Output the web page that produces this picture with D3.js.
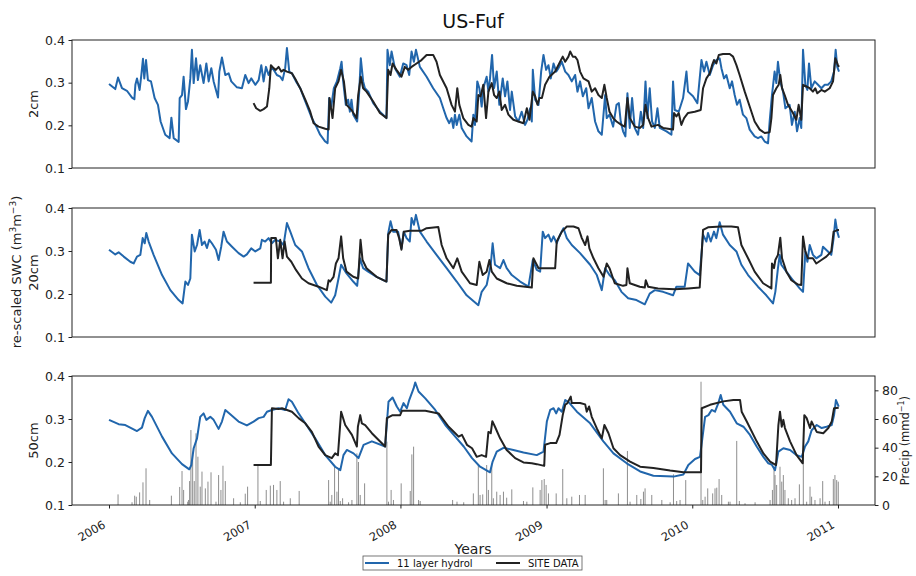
<!DOCTYPE html>
<html><head><meta charset="utf-8">
<script src="https://cdn.jsdelivr.net/npm/d3@7"></script>
<style>body{margin:0;background:#fff}svg{font-family:"DejaVu Sans",sans-serif}</style>
</head><body><svg id="c" width="916" height="576"></svg>
<script>
const title = "US-Fuf";
const panelLabels = ["2cm","20cm","50cm"];
const yTicks = [0.1,0.2,0.3,0.4];
const precipTicks = [0,20,40,60,80];
const yearTicks = [2006,2007,2008,2009,2010,2011];
const seriesNames = ["11 layer hydrol","SITE DATA"];

const blue2cm = [[2006.000,.297],[2006.043,.285],[2006.062,.312],[2006.089,.287],[2006.123,.281],[2006.158,.265],[2006.174,.261],[2006.181,.295],[2006.192,.310],[2006.210,.283],[2006.222,.318],[2006.233,.356],[2006.242,.310],[2006.254,.353],[2006.267,.306],[2006.288,.303],[2006.313,.264],[2006.336,.248],[2006.354,.209],[2006.386,.178],[2006.416,.170],[2006.428,.218],[2006.444,.170],[2006.478,.161],[2006.485,.264],[2006.501,.271],[2006.512,.314],[2006.528,.238],[2006.542,.256],[2006.558,.310],[2006.569,.377],[2006.581,.299],[2006.597,.357],[2006.610,.306],[2006.626,.341],[2006.649,.299],[2006.668,.345],[2006.684,.303],[2006.702,.334],[2006.718,.303],[2006.748,.265],[2006.757,.326],[2006.775,.359],[2006.798,.318],[2006.821,.322],[2006.839,.303],[2006.878,.289],[2006.912,.287],[2006.935,.318],[2006.958,.299],[2006.976,.310],[2007.004,.295],[2007.027,.306],[2007.045,.341],[2007.061,.303],[2007.077,.337],[2007.095,.318],[2007.118,.337],[2007.152,.318],[2007.175,.314],[2007.191,.306],[2007.209,.334],[2007.221,.381],[2007.237,.326],[2007.255,.322],[2007.283,.303],[2007.312,.287],[2007.347,.256],[2007.392,.217],[2007.427,.194],[2007.449,.178],[2007.484,.162],[2007.500,.158],[2007.511,.264],[2007.525,.244],[2007.543,.287],[2007.564,.303],[2007.587,.334],[2007.596,.349],[2007.607,.303],[2007.625,.248],[2007.641,.260],[2007.653,.232],[2007.664,.260],[2007.676,.225],[2007.703,.209],[2007.717,.279],[2007.728,.357],[2007.744,.303],[2007.756,.287],[2007.779,.279],[2007.813,.252],[2007.859,.232],[2007.904,.217],[2007.911,.377],[2007.927,.341],[2007.939,.373],[2007.962,.334],[2007.996,.314],[2008.019,.345],[2008.042,.341],[2008.060,.318],[2008.076,.373],[2008.092,.349],[2008.106,.377],[2008.133,.337],[2008.179,.314],[2008.224,.287],[2008.270,.264],[2008.293,.240],[2008.316,.217],[2008.334,.205],[2008.350,.217],[2008.362,.194],[2008.373,.225],[2008.385,.201],[2008.403,.225],[2008.419,.194],[2008.453,.174],[2008.487,.162],[2008.499,.225],[2008.510,.201],[2008.526,.303],[2008.540,.287],[2008.556,.244],[2008.567,.287],[2008.590,.314],[2008.602,.279],[2008.613,.310],[2008.627,.365],[2008.641,.287],[2008.659,.326],[2008.677,.248],[2008.700,.310],[2008.716,.268],[2008.732,.303],[2008.750,.236],[2008.762,.279],[2008.785,.221],[2008.807,.209],[2008.830,.232],[2008.853,.201],[2008.869,.213],[2008.888,.240],[2008.899,.209],[2008.906,.330],[2008.922,.260],[2008.945,.248],[2008.963,.326],[2008.979,.365],[2008.997,.330],[2009.013,.341],[2009.029,.310],[2009.048,.345],[2009.066,.326],[2009.082,.334],[2009.105,.349],[2009.128,.326],[2009.150,.318],[2009.173,.303],[2009.196,.318],[2009.212,.279],[2009.230,.303],[2009.249,.268],[2009.272,.287],[2009.288,.240],[2009.310,.264],[2009.333,.209],[2009.356,.186],[2009.379,.178],[2009.402,.271],[2009.413,.217],[2009.432,.225],[2009.457,.197],[2009.480,.248],[2009.496,.252],[2009.509,.209],[2009.525,.186],[2009.541,.174],[2009.555,.275],[2009.571,.194],[2009.587,.264],[2009.605,.194],[2009.628,.178],[2009.647,.232],[2009.663,.194],[2009.679,.303],[2009.692,.217],[2009.708,.287],[2009.724,.209],[2009.743,.194],[2009.761,.240],[2009.777,.194],[2009.800,.190],[2009.823,.186],[2009.857,.178],[2009.868,.303],[2009.880,.236],[2009.907,.232],[2009.937,.264],[2009.960,.326],[2009.971,.279],[2010.005,.268],[2010.035,.252],[2010.051,.310],[2010.063,.353],[2010.081,.326],[2010.097,.349],[2010.120,.318],[2010.143,.341],[2010.165,.353],[2010.188,.357],[2010.200,.334],[2010.218,.310],[2010.234,.318],[2010.257,.287],[2010.273,.303],[2010.291,.271],[2010.307,.248],[2010.325,.260],[2010.348,.225],[2010.371,.217],[2010.394,.190],[2010.428,.174],[2010.451,.170],[2010.474,.174],[2010.497,.162],[2010.520,.158],[2010.531,.209],[2010.547,.271],[2010.565,.326],[2010.577,.299],[2010.588,.349],[2010.604,.303],[2010.623,.279],[2010.639,.240],[2010.668,.248],[2010.684,.201],[2010.703,.232],[2010.719,.186],[2010.737,.217],[2010.748,.194],[2010.760,.377],[2010.776,.295],[2010.790,.283],[2010.801,.345],[2010.817,.287],[2010.840,.303],[2010.863,.295],[2010.886,.287],[2010.909,.295],[2010.931,.295],[2010.954,.303],[2010.973,.326],[2010.984,.377],[2010.995,.337],[2011.007,.326]];

const site2cm = [[2006.992,.252],[2007.010,.240],[2007.038,.234],[2007.061,.238],[2007.084,.244],[2007.100,.287],[2007.111,.341],[2007.129,.334],[2007.145,.330],[2007.164,.337],[2007.182,.326],[2007.198,.330],[2007.221,.326],[2007.255,.322],[2007.283,.306],[2007.312,.287],[2007.347,.260],[2007.381,.232],[2007.404,.205],[2007.438,.197],[2007.484,.192],[2007.507,.190],[2007.513,.264],[2007.534,.217],[2007.552,.287],[2007.575,.303],[2007.593,.330],[2007.612,.303],[2007.630,.248],[2007.664,.236],[2007.699,.217],[2007.710,.271],[2007.728,.314],[2007.744,.287],[2007.767,.279],[2007.813,.256],[2007.859,.229],[2007.904,.217],[2007.916,.330],[2007.932,.318],[2007.946,.345],[2007.973,.330],[2008.007,.314],[2008.030,.337],[2008.053,.330],[2008.076,.337],[2008.110,.345],[2008.144,.353],[2008.179,.365],[2008.224,.365],[2008.247,.349],[2008.270,.318],[2008.316,.287],[2008.350,.248],[2008.373,.232],[2008.389,.287],[2008.403,.248],[2008.430,.217],[2008.465,.201],[2008.487,.197],[2008.499,.217],[2008.522,.209],[2008.533,.271],[2008.549,.268],[2008.567,.295],[2008.586,.217],[2008.602,.279],[2008.625,.299],[2008.641,.271],[2008.659,.264],[2008.677,.279],[2008.693,.236],[2008.716,.248],[2008.739,.225],[2008.773,.213],[2008.807,.209],[2008.842,.205],[2008.865,.240],[2008.883,.213],[2008.906,.279],[2008.922,.268],[2008.938,.248],[2008.951,.264],[2008.968,.264],[2008.990,.295],[2009.020,.314],[2009.059,.326],[2009.093,.349],[2009.111,.361],[2009.128,.349],[2009.150,.361],[2009.162,.373],[2009.180,.361],[2009.196,.361],[2009.212,.353],[2009.230,.326],[2009.253,.310],[2009.288,.303],[2009.310,.279],[2009.333,.287],[2009.356,.271],[2009.379,.264],[2009.397,.295],[2009.413,.264],[2009.432,.232],[2009.457,.217],[2009.480,.209],[2009.514,.201],[2009.537,.197],[2009.555,.264],[2009.571,.217],[2009.605,.197],[2009.640,.194],[2009.663,.201],[2009.679,.248],[2009.697,.217],[2009.720,.197],[2009.765,.201],[2009.800,.194],[2009.834,.192],[2009.868,.190],[2009.875,.229],[2009.891,.221],[2009.907,.229],[2009.925,.201],[2009.944,.217],[2009.971,.229],[2010.017,.232],[2010.058,.236],[2010.074,.287],[2010.097,.310],[2010.120,.322],[2010.136,.341],[2010.149,.353],[2010.165,.345],[2010.182,.365],[2010.211,.367],[2010.257,.367],[2010.280,.361],[2010.303,.341],[2010.325,.318],[2010.360,.279],[2010.394,.244],[2010.428,.209],[2010.463,.190],[2010.497,.182],[2010.531,.184],[2010.543,.217],[2010.554,.271],[2010.577,.287],[2010.593,.295],[2010.604,.318],[2010.616,.287],[2010.634,.271],[2010.657,.248],[2010.691,.229],[2010.714,.213],[2010.730,.248],[2010.748,.213],[2010.760,.295],[2010.783,.291],[2010.806,.287],[2010.828,.279],[2010.844,.287],[2010.858,.275],[2010.886,.283],[2010.909,.279],[2010.943,.287],[2010.966,.303],[2010.982,.357],[2011.000,.341],[2011.007,.337]];

const blue20cm = [[2006.000,.303],[2006.043,.292],[2006.066,.297],[2006.101,.287],[2006.146,.275],[2006.169,.271],[2006.192,.287],[2006.215,.291],[2006.231,.330],[2006.245,.318],[2006.256,.342],[2006.272,.322],[2006.306,.291],[2006.364,.244],[2006.421,.209],[2006.478,.186],[2006.505,.178],[2006.524,.229],[2006.542,.221],[2006.558,.236],[2006.569,.338],[2006.588,.299],[2006.604,.314],[2006.622,.349],[2006.638,.314],[2006.656,.322],[2006.672,.307],[2006.688,.326],[2006.706,.318],[2006.734,.303],[2006.752,.279],[2006.770,.310],[2006.786,.345],[2006.809,.322],[2006.844,.310],[2006.889,.295],[2006.924,.287],[2006.946,.292],[2006.976,.306],[2007.004,.299],[2007.038,.306],[2007.049,.326],[2007.072,.322],[2007.095,.330],[2007.118,.318],[2007.141,.326],[2007.175,.322],[2007.198,.314],[2007.221,.365],[2007.244,.345],[2007.278,.314],[2007.324,.299],[2007.369,.260],[2007.427,.221],[2007.484,.194],[2007.525,.180],[2007.552,.197],[2007.575,.236],[2007.593,.268],[2007.630,.248],[2007.676,.229],[2007.703,.219],[2007.722,.283],[2007.744,.260],[2007.779,.252],[2007.836,.240],[2007.904,.229],[2007.916,.341],[2007.932,.369],[2007.950,.345],[2007.984,.345],[2008.007,.306],[2008.023,.345],[2008.042,.330],[2008.064,.322],[2008.076,.377],[2008.092,.361],[2008.106,.384],[2008.133,.345],[2008.179,.322],[2008.247,.291],[2008.316,.260],[2008.385,.229],[2008.453,.197],[2008.533,.174],[2008.556,.205],[2008.590,.221],[2008.618,.268],[2008.631,.318],[2008.647,.268],[2008.682,.260],[2008.705,.279],[2008.727,.260],[2008.762,.244],[2008.819,.229],[2008.876,.217],[2008.906,.279],[2008.933,.256],[2008.956,.252],[2008.974,.345],[2008.990,.330],[2009.013,.338],[2009.032,.322],[2009.048,.334],[2009.070,.318],[2009.093,.338],[2009.116,.353],[2009.139,.330],[2009.173,.314],[2009.230,.295],[2009.299,.268],[2009.345,.244],[2009.379,.209],[2009.402,.260],[2009.432,.244],[2009.468,.232],[2009.514,.205],[2009.560,.190],[2009.617,.186],[2009.674,.176],[2009.708,.201],[2009.743,.209],[2009.800,.205],[2009.868,.197],[2009.891,.217],[2009.948,.217],[2009.971,.271],[2010.017,.252],[2010.051,.244],[2010.074,.338],[2010.097,.322],[2010.108,.342],[2010.127,.322],[2010.149,.345],[2010.165,.330],[2010.188,.367],[2010.211,.338],[2010.257,.314],[2010.303,.299],[2010.337,.268],[2010.383,.244],[2010.451,.217],[2010.508,.197],[2010.554,.178],[2010.570,.205],[2010.588,.260],[2010.600,.291],[2010.611,.268],[2010.646,.252],[2010.691,.232],[2010.737,.213],[2010.760,.205],[2010.776,.299],[2010.790,.275],[2010.806,.314],[2010.828,.291],[2010.851,.283],[2010.886,.291],[2010.897,.310],[2010.931,.299],[2010.954,.291],[2010.970,.330],[2010.982,.373],[2010.995,.345],[2011.007,.331]];

const site20cm = [[2006.992,.226],[2007.111,.226],[2007.113,.330],[2007.145,.330],[2007.159,.283],[2007.175,.326],[2007.191,.283],[2007.205,.322],[2007.221,.287],[2007.251,.275],[2007.283,.256],[2007.324,.236],[2007.369,.225],[2007.438,.217],[2007.495,.209],[2007.507,.232],[2007.518,.229],[2007.541,.240],[2007.557,.271],[2007.575,.283],[2007.593,.334],[2007.607,.283],[2007.630,.252],[2007.676,.240],[2007.710,.236],[2007.726,.326],[2007.740,.279],[2007.767,.260],[2007.836,.240],[2007.904,.229],[2007.916,.338],[2007.939,.349],[2007.973,.349],[2007.991,.330],[2008.007,.303],[2008.023,.345],[2008.064,.347],[2008.144,.347],[2008.179,.353],[2008.259,.356],[2008.282,.314],[2008.316,.283],[2008.362,.260],[2008.389,.283],[2008.419,.252],[2008.476,.225],[2008.522,.221],[2008.540,.275],[2008.563,.244],[2008.590,.252],[2008.609,.279],[2008.625,.252],[2008.659,.236],[2008.727,.225],[2008.796,.219],[2008.899,.215],[2008.910,.283],[2008.945,.260],[2009.059,.260],[2009.070,.322],[2009.105,.345],[2009.139,.357],[2009.185,.357],[2009.219,.353],[2009.242,.330],[2009.265,.314],[2009.281,.334],[2009.294,.306],[2009.322,.283],[2009.356,.260],[2009.391,.240],[2009.413,.271],[2009.432,.260],[2009.468,.225],[2009.525,.219],[2009.548,.221],[2009.555,.260],[2009.571,.225],[2009.640,.217],[2009.674,.215],[2009.681,.232],[2009.697,.217],[2009.765,.213],[2009.880,.211],[2009.971,.213],[2010.051,.215],[2010.074,.349],[2010.108,.355],[2010.200,.357],[2010.268,.357],[2010.314,.355],[2010.337,.314],[2010.383,.283],[2010.428,.252],[2010.486,.225],[2010.543,.213],[2010.547,.271],[2010.561,.260],[2010.570,.279],[2010.588,.291],[2010.604,.331],[2010.616,.283],[2010.646,.252],[2010.680,.232],[2010.726,.222],[2010.748,.221],[2010.760,.334],[2010.776,.299],[2010.794,.283],[2010.828,.283],[2010.851,.271],[2010.886,.279],[2010.920,.287],[2010.954,.299],[2010.970,.345],[2011.000,.349],[2011.007,.349]];

const blue50cm = [[2006.000,.298],[2006.066,.288],[2006.112,.286],[2006.192,.272],[2006.226,.280],[2006.245,.302],[2006.267,.319],[2006.295,.305],[2006.364,.259],[2006.432,.220],[2006.501,.195],[2006.551,.183],[2006.565,.193],[2006.581,.232],[2006.604,.255],[2006.626,.305],[2006.649,.313],[2006.668,.298],[2006.695,.305],[2006.718,.298],[2006.752,.277],[2006.775,.294],[2006.798,.321],[2006.832,.311],[2006.889,.294],[2006.946,.285],[2006.992,.294],[2007.027,.302],[2007.061,.305],[2007.084,.317],[2007.118,.321],[2007.164,.325],[2007.209,.321],[2007.232,.346],[2007.255,.340],[2007.301,.313],[2007.347,.290],[2007.415,.255],[2007.484,.216],[2007.552,.189],[2007.587,.181],[2007.609,.216],[2007.632,.228],[2007.678,.220],[2007.712,.209],[2007.747,.240],[2007.804,.248],[2007.895,.236],[2007.918,.340],[2007.946,.350],[2007.975,.329],[2007.998,.317],[2008.021,.337],[2008.044,.325],[2008.060,.344],[2008.090,.371],[2008.101,.385],[2008.124,.364],[2008.170,.348],[2008.238,.321],[2008.307,.286],[2008.375,.259],[2008.433,.236],[2008.490,.209],[2008.545,.189],[2008.613,.176],[2008.631,.201],[2008.659,.224],[2008.705,.233],[2008.773,.228],[2008.842,.222],[2008.933,.216],[2008.979,.224],[2009.002,.294],[2009.025,.321],[2009.048,.325],[2009.066,.313],[2009.082,.325],[2009.105,.317],[2009.128,.344],[2009.150,.340],[2009.208,.317],[2009.299,.290],[2009.390,.248],[2009.459,.220],[2009.550,.197],[2009.642,.178],[2009.733,.168],[2009.871,.166],[2009.939,.171],[2009.973,.193],[2010.019,.207],[2010.053,.212],[2010.088,.305],[2010.111,.309],[2010.133,.321],[2010.156,.317],[2010.179,.337],[2010.195,.356],[2010.213,.333],[2010.259,.317],[2010.305,.290],[2010.351,.282],[2010.396,.263],[2010.442,.236],[2010.488,.212],[2010.522,.197],[2010.545,.194],[2010.568,.181],[2010.591,.224],[2010.625,.232],[2010.671,.228],[2010.716,.216],[2010.751,.212],[2010.774,.236],[2010.796,.248],[2010.819,.274],[2010.854,.286],[2010.888,.279],[2010.922,.282],[2010.957,.286],[2010.973,.309],[2010.986,.344],[2011.005,.329]];

const site50cm = [[2006.992,.193],[2007.111,.193],[2007.118,.325],[2007.164,.323],[2007.187,.325],[2007.221,.321],[2007.255,.317],[2007.301,.302],[2007.347,.290],[2007.392,.270],[2007.438,.236],[2007.484,.216],[2007.529,.209],[2007.552,.220],[2007.571,.216],[2007.593,.317],[2007.621,.286],[2007.667,.263],[2007.701,.236],[2007.708,.282],[2007.724,.309],[2007.735,.290],[2007.758,.286],[2007.804,.267],[2007.850,.251],[2007.895,.236],[2007.907,.302],[2007.946,.309],[2007.998,.309],[2008.010,.319],[2008.078,.319],[2008.170,.319],[2008.261,.313],[2008.330,.282],[2008.375,.267],[2008.398,.259],[2008.421,.263],[2008.455,.240],[2008.490,.232],[2008.522,.212],[2008.556,.216],[2008.586,.212],[2008.602,.270],[2008.618,.267],[2008.629,.295],[2008.647,.282],[2008.682,.255],[2008.727,.228],[2008.785,.209],[2008.842,.199],[2008.899,.197],[2008.933,.195],[2008.984,.191],[2008.990,.240],[2009.025,.244],[2009.066,.244],[2009.089,.263],[2009.111,.309],[2009.128,.333],[2009.143,.337],[2009.166,.352],[2009.173,.337],[2009.230,.337],[2009.265,.334],[2009.276,.317],[2009.292,.329],[2009.310,.305],[2009.345,.278],[2009.379,.255],[2009.397,.286],[2009.425,.267],[2009.459,.232],[2009.505,.216],[2009.573,.201],[2009.642,.189],[2009.733,.186],[2009.848,.180],[2009.939,.176],[2010.060,.176],[2010.065,.325],[2010.122,.333],[2010.213,.341],[2010.282,.344],[2010.328,.344],[2010.339,.317],[2010.374,.294],[2010.442,.248],[2010.488,.220],[2010.534,.201],[2010.575,.193],[2010.591,.286],[2010.602,.317],[2010.614,.282],[2010.625,.298],[2010.636,.279],[2010.671,.248],[2010.716,.216],[2010.758,.197],[2010.769,.309],[2010.785,.302],[2010.808,.279],[2010.819,.294],[2010.854,.270],[2010.899,.267],[2010.934,.279],[2010.957,.294],[2010.973,.325],[2011.005,.326]];

const precip = [[2006.062,7.4],[2006.158,1.9],[2006.176,6.5],[2006.187,5.8],[2006.210,8.8],[2006.233,15.8],[2006.254,25.6],[2006.279,3.5],[2006.428,6.5],[2006.485,12.6],[2006.501,23.7],[2006.512,10.5],[2006.540,2.3],[2006.546,3.5],[2006.553,16.7],[2006.562,52.3],[2006.574,34.9],[2006.585,16.7],[2006.597,50.0],[2006.610,33.7],[2006.626,12.8],[2006.638,23.3],[2006.661,11.6],[2006.679,16.3],[2006.700,22.8],[2006.734,2.3],[2006.752,20.9],[2006.768,10.5],[2006.782,27.4],[2006.798,16.7],[2006.855,4.7],[2006.901,1.9],[2006.935,7.9],[2006.951,12.8],[2007.022,28.4],[2007.038,2.8],[2007.079,10.5],[2007.107,13.5],[2007.129,14.0],[2007.152,10.5],[2007.175,16.7],[2007.198,2.3],[2007.244,4.7],[2007.305,9.8],[2007.507,17.4],[2007.518,2.3],[2007.529,7.0],[2007.548,26.7],[2007.564,9.3],[2007.575,25.6],[2007.587,2.8],[2007.603,4.7],[2007.644,1.9],[2007.667,3.5],[2007.701,36.0],[2007.712,30.0],[2007.724,7.0],[2007.754,15.1],[2007.907,44.2],[2007.918,2.3],[2007.936,10.5],[2007.952,3.5],[2008.005,15.1],[2008.067,9.8],[2008.078,35.3],[2008.090,40.7],[2008.124,3.5],[2008.135,2.8],[2008.357,3.5],[2008.387,2.3],[2008.433,1.9],[2008.499,8.1],[2008.533,27.9],[2008.545,7.0],[2008.563,7.4],[2008.590,27.9],[2008.602,10.5],[2008.625,27.9],[2008.636,4.7],[2008.659,9.3],[2008.682,7.0],[2008.705,9.3],[2008.727,5.1],[2008.762,10.9],[2008.842,2.8],[2008.865,2.3],[2008.906,12.3],[2008.956,10.5],[2008.968,17.4],[2008.984,18.1],[2008.997,14.0],[2009.013,8.1],[2009.066,8.1],[2009.111,25.1],[2009.139,4.7],[2009.173,5.8],[2009.226,7.0],[2009.265,7.0],[2009.390,25.6],[2009.402,3.5],[2009.413,3.5],[2009.493,8.1],[2009.555,37.7],[2009.573,2.3],[2009.619,7.0],[2009.647,4.2],[2009.665,9.3],[2009.676,11.6],[2009.722,7.0],[2009.791,3.5],[2009.848,1.9],[2009.871,21.4],[2009.893,2.8],[2009.916,3.5],[2009.955,17.4],[2010.060,86.0],[2010.072,3.5],[2010.088,5.8],[2010.106,11.6],[2010.140,8.1],[2010.156,11.6],[2010.168,12.1],[2010.184,18.1],[2010.202,7.0],[2010.248,2.3],[2010.259,2.3],[2010.305,44.7],[2010.323,2.8],[2010.362,1.2],[2010.431,1.9],[2010.534,3.5],[2010.550,10.5],[2010.561,26.7],[2010.568,20.9],[2010.579,14.0],[2010.602,26.7],[2010.614,16.3],[2010.625,20.9],[2010.636,10.5],[2010.659,4.7],[2010.682,3.5],[2010.705,4.7],[2010.735,14.4],[2010.762,36.0],[2010.785,2.3],[2010.808,12.8],[2010.819,5.8],[2010.842,3.5],[2010.877,4.7],[2010.895,16.7],[2010.911,2.3],[2010.941,2.8],[2010.968,18.1],[2010.979,20.9],[2010.991,17.4],[2011.002,16.3]];

// ---------- drawing ----------
const svg = d3.select("#c");
const BLUE = "#2166ac", BLACK = "#222222";
function toDate(y){const yr=Math.floor(y);const a=Date.UTC(yr,0,1),b=Date.UTC(yr+1,0,1);return new Date(a+(y-yr)*(b-a));}
const x = d3.scaleUtc().domain([toDate(2005.746), toDate(2011.254)]).range([72, 875]);
const panels = [
  {top:40, bottom:168, blue:blue2cm, site:site2cm, label:panelLabels[0]},
  {top:208, bottom:337, blue:blue20cm, site:site20cm, label:panelLabels[1]},
  {top:376, bottom:505, blue:blue50cm, site:site50cm, label:panelLabels[2]}
];
svg.append("text").attr("x",473).attr("y",28).attr("text-anchor","middle")
  .attr("font-size",19).attr("fill","#111").text(title);

panels.forEach((p,i)=>{
  const y = d3.scaleLinear().domain([0.1,0.4]).range([p.bottom,p.top]);
  const g = svg.append("g");
  if(i===2){
    const yp = d3.scaleLinear().domain([0,90]).range([p.bottom,p.top]);
    g.append("g").selectAll("rect").data(precip).join("rect")
      .attr("x",d=>x(toDate(d[0]))-0.5).attr("width",1)
      .attr("y",d=>yp(d[1])).attr("height",d=>p.bottom-yp(d[1]))
      .attr("fill","#7a7a7a").attr("opacity",0.85);
    const ra = g.append("g").attr("transform","translate(875,0)")
      .call(d3.axisRight(yp).tickValues(precipTicks).tickSize(3.5).tickPadding(3.5));
    ra.select(".domain").remove();
    ra.selectAll("text").attr("font-size",12.5).attr("fill","#222").attr("font-family","DejaVu Sans");
    ra.selectAll("line").attr("stroke","#222");
    svg.append("text").attr("transform",`translate(909,${(p.top+p.bottom)/2}) rotate(-90)`)
      .attr("text-anchor","middle").attr("font-size",11.5).attr("fill","#222")
      .html('Precip (mmd<tspan dy="-5" font-size="8">−1</tspan><tspan dy="5">)</tspan>');
  }
  const line = d3.line().x(d=>x(toDate(d[0]))).y(d=>y(d[1]));
  g.append("path").datum(p.blue).attr("d",line).attr("fill","none")
    .attr("stroke",BLUE).attr("stroke-width",2).attr("stroke-linejoin","round");
  g.append("path").datum(p.site).attr("d",line).attr("fill","none")
    .attr("stroke",BLACK).attr("stroke-width",2).attr("stroke-linejoin","round");
  g.append("rect").attr("x",72).attr("y",p.top).attr("width",803).attr("height",p.bottom-p.top)
    .attr("fill","none").attr("stroke","#222").attr("stroke-width",1);
  const la = g.append("g").attr("transform","translate(72,0)")
    .call(d3.axisLeft(y).tickValues(yTicks).tickFormat(d3.format(".1f")).tickSize(3.5).tickPadding(3.5));
  la.select(".domain").remove();
  la.selectAll("text").attr("font-size",12.5).attr("fill","#222").attr("font-family","DejaVu Sans");
  la.selectAll("line").attr("stroke","#222");
  svg.append("text").attr("transform",`translate(38,${(p.top+p.bottom)/2}) rotate(-90)`)
    .attr("text-anchor","middle").attr("font-size",13).attr("fill","#222").text(p.label);
  if(i===2){
    const xa = g.append("g").attr("transform",`translate(0,${p.bottom})`)
      .call(d3.axisBottom(x).tickValues(yearTicks.map(v=>toDate(v))).tickFormat(d3.utcFormat("%Y")).tickSize(3.5));
    xa.select(".domain").remove();
    xa.selectAll("line").attr("stroke","#222");
    xa.selectAll("text").attr("font-size",11.5).attr("fill","#222").attr("font-family","DejaVu Sans")
      .attr("text-anchor","end").attr("dy",null).attr("y",null)
      .attr("transform","translate(-5,19) rotate(-30)").attr("dominant-baseline","middle");
  }
});
svg.append("text").attr("transform","translate(21,272) rotate(-90)")
  .attr("text-anchor","middle").attr("font-size",13).attr("fill","#222")
  .html('re-scaled SWC (m<tspan dy="-5" font-size="9">3</tspan><tspan dy="5">m</tspan><tspan dy="-5" font-size="9">−3</tspan><tspan dy="5">)</tspan>');
svg.append("text").attr("x",473).attr("y",554).attr("text-anchor","middle")
  .attr("font-size",14).attr("fill","#222").text("Years");
// legend
const lg = svg.append("g").attr("transform","translate(363,556)");
lg.append("rect").attr("width",219).attr("height",14).attr("fill","#fff").attr("stroke","#555").attr("stroke-width",0.8);
const colors=[BLUE,BLACK], offs=[2,133];
seriesNames.forEach((n,i)=>{
  lg.append("line").attr("x1",offs[i]).attr("x2",offs[i]+24).attr("y1",7).attr("y2",7)
    .attr("stroke",colors[i]).attr("stroke-width",2);
  lg.append("text").attr("x",offs[i]+32).attr("y",11).attr("font-size",10).attr("fill","#111").text(n);
});
</script></body></html>
